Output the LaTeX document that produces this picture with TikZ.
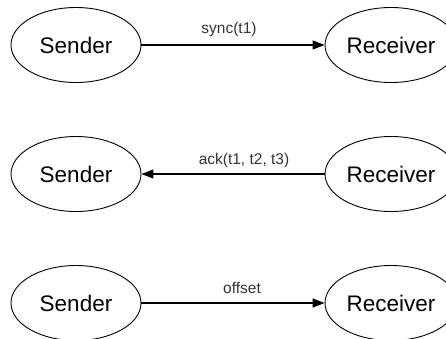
\documentclass[tikz,border=0pt]{standalone}
\usepackage{fontspec}
\setmainfont{Liberation Sans}
\usetikzlibrary{shapes.geometric,arrows.meta}
\tikzset{
  party/.style={ellipse, draw, line width=0.9pt, inner sep=0pt,
    minimum width=130pt, minimum height=75pt, font=\fontsize{22.5}{26}\selectfont},
  msg/.style={-{Triangle[length=12pt,width=9pt]}, line width=1.1pt},
  lbl/.style={inner sep=0pt, font=\fontsize{15.5}{18}\selectfont, text=black!80}
}
\begin{document}
\begin{tikzpicture}[x=1pt,y=-1pt]
  \useasboundingbox (0,0) rectangle (446,338);
  % row 1: sync request
  \node[party] (s1) at (76,45) {Sender};
  \node[party, minimum width=132pt] (r1) at (391,45) {Receiver};
  \draw[msg] (s1) -- (r1);
  \node[lbl] (l1) at (229,29) {sync(t1)};
  % row 2: acknowledgement with timestamps
  \node[party] (s2) at (76,174) {Sender};
  \node[party, minimum width=132pt] (r2) at (391,174) {Receiver};
  \draw[msg] (r2) -- (s2);
  \node[lbl] (l2) at (244,160) {ack(t1, t2, t3)};
  % row 3: offset
  \node[party] (s3) at (76,303) {Sender};
  \node[party, minimum width=132pt] (r3) at (391,303) {Receiver};
  \draw[msg] (s3) -- (r3);
  \node[lbl] (l3) at (242,288) {offset};
\end{tikzpicture}
\end{document}
